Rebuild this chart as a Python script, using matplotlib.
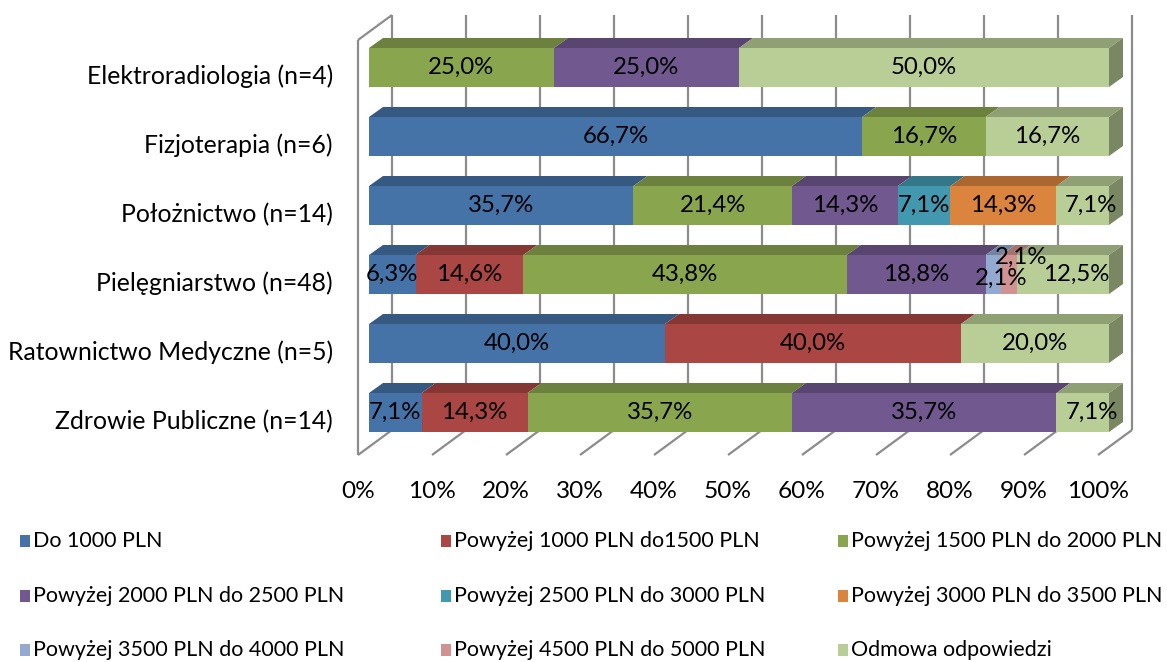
import matplotlib
matplotlib.use("Agg")
import matplotlib.pyplot as plt
import matplotlib.patches as patches
import numpy as np
from matplotlib.colors import to_rgb

plt.rcParams['font.family'] = ['Lato', 'DejaVu Sans']

# --- data -------------------------------------------------------------
categories = ['Elektroradiologia (n=4)', 'Fizjoterapia (n=6)', 'Położnictwo (n=14)',
              'Pielęgniarstwo (n=48)', 'Ratownictwo Medyczne (n=5)', 'Zdrowie Publiczne (n=14)']
series = ['Do 1000 PLN', 'Powyżej 1000 PLN do1500 PLN', 'Powyżej 1500 PLN do 2000 PLN',
          'Powyżej 2000 PLN do 2500 PLN', 'Powyżej 2500 PLN do 3000 PLN', 'Powyżej 3000 PLN do 3500 PLN',
          'Powyżej 3500 PLN do 4000 PLN', 'Powyżej 4500 PLN do 5000 PLN', 'Odmowa odpowiedzi']
colors = ['#4572A7', '#AA4643', '#89A54E', '#71588F', '#4198AF', '#DB843D',
          '#93A9CF', '#D19392', '#B9CD96']
# percent per category (rows) and series (columns)
values = np.array([
    [0.0, 0.0, 25.0, 25.0, 0.0, 0.0, 0.0, 0.0, 50.0],
    [66.7, 0.0, 16.7, 0.0, 0.0, 0.0, 0.0, 0.0, 16.7],
    [35.7, 0.0, 21.4, 14.3, 7.1, 14.3, 0.0, 0.0, 7.1],
    [6.3, 14.6, 43.8, 18.8, 0.0, 0.0, 2.1, 2.1, 12.5],
    [40.0, 40.0, 0.0, 0.0, 0.0, 0.0, 0.0, 0.0, 20.0],
    [7.1, 14.3, 35.7, 35.7, 0.0, 0.0, 0.0, 0.0, 7.1],
])
xticks = [0, 10, 20, 30, 40, 50, 60, 70, 80, 90, 100]

# --- layout (pixels) --------------------------------------------------
W, H = 1167, 662
X0, PXU = 369, 7.4          # bar front face: 0% at x=369, px per percent
Y0, ROW = 67.5, 69          # centre of first bar, row pitch
BAR_H = 39 / ROW
DEPTH = (14 / PXU, -10 / ROW)   # bar depth offset
FRONT = -11                 # front plane x offset (px) vs bar plane
BACK = 23                   # back wall x offset (px)
FLOOR_F, FLOOR_B, TOP_B, TOP_F = 455, 430, 15, 40

def py(ypx):
    return (ypx - Y0) / ROW

def shade(c, f):
    return tuple(v * f for v in to_rgb(c))

fig = plt.figure(figsize=(W / 100, H / 100), dpi=100)
left, right, top, bottom = 340, 1140, 10, 460
ax = fig.add_axes([left / W, 1 - bottom / H, (right - left) / W, (bottom - top) / H])
ax.set_xlim((left - X0) / PXU, (right - X0) / PXU)
ax.set_ylim(py(bottom), py(top))
ax.axis('off')

grid = dict(color='#8C8C8C', lw=1.6, solid_capstyle='butt', zorder=1)
# back wall gridlines and floor
for t in xticks:
    xb = t + BACK / PXU
    xf = t + FRONT / PXU
    ax.plot([xb, xb], [py(TOP_B), py(FLOOR_B)], **grid)
    ax.plot([xf, xb], [py(FLOOR_F), py(FLOOR_B)], **grid)
# left wall
xf0, xb0 = FRONT / PXU, BACK / PXU
ax.plot([xf0, xf0], [py(TOP_F), py(FLOOR_F)], **grid)
ax.plot([xf0, xb0], [py(TOP_F), py(TOP_B)], **grid)

# --- bars -------------------------------------------------------------
label_shift = {(3, 6): (8, 4), (3, 7): (12, -17), (3, 8): (13, 0),
               (2, 8): (8, 0), (5, 8): (9, 0)}
dx, dy = DEPTH
for i, row in enumerate(values):
    frac = row / row.sum() * 100
    starts = np.concatenate([[0], np.cumsum(frac)[:-1]])
    yt, yb = i - BAR_H / 2, i + BAR_H / 2
    last = max(j for j in range(len(row)) if row[j] > 0)
    for j, (s, w) in enumerate(zip(starts, frac)):
        if row[j] <= 0:
            continue
        c = colors[j]
        ax.add_patch(patches.Rectangle((s, yt), w, BAR_H, facecolor=c, edgecolor='none', zorder=3))
        ax.add_patch(patches.Polygon([(s, yt), (s + w, yt), (s + w + dx, yt + dy), (s + dx, yt + dy)],
                                     closed=True, facecolor=shade(c, 0.78), edgecolor='none', zorder=3))
        if j == last:
            e = s + w
            ax.add_patch(patches.Polygon([(e, yt), (e + dx, yt + dy), (e + dx, yb + dy), (e, yb)],
                                         closed=True, facecolor=shade(c, 0.66), edgecolor='none', zorder=3))
        ox, oy = label_shift.get((i, j), (0, 0))
        ax.text(s + w / 2 + ox / PXU, i + oy / ROW, f'{row[j]:.1f}%'.replace('.', ','),
                ha='center', va='center', fontsize=17.3, color='black', zorder=5)

# category labels
for i, name in enumerate(categories):
    ax.text((333 - X0) / PXU, i + 9 / ROW, name, ha='right', va='center', fontsize=17.8, clip_on=False)
# x tick labels
for t in xticks:
    ax.text(t + FRONT / PXU, py(491), f'{t}%', ha='center', va='center', fontsize=17.6, clip_on=False)

# --- legend (3 columns, row-wise) ---------------------------------------
col_x = [20, 441, 838]
row_y = [541, 596, 650]
for k, (name, c) in enumerate(zip(series, colors)):
    r, cidx = divmod(k, 3)
    x, y = col_x[cidx], row_y[r]
    fig.patches.append(patches.Rectangle((x / W, 1 - (y + 6) / H), 10 / W, 12 / H,
                                         facecolor=c, edgecolor='none', transform=fig.transFigure))
    fig.text((x + 13) / W, 1 - y / H, name, ha='left', va='center', fontsize=15.5)

fig.savefig('out.png', dpi=100, facecolor='white')
